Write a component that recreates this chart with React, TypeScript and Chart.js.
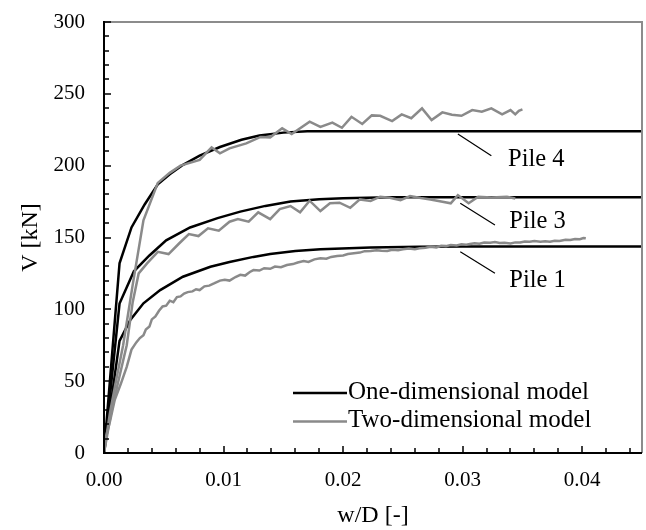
import React, { useEffect, useRef } from "react";
import { Chart, registerables } from "chart.js";

Chart.register(...registerables);

// ---------- Data ----------
// One-dimensional model (black)
const pile4_1D_w = [0, 0.0013, 0.0023, 0.0034, 0.0045, 0.0055, 0.0065, 0.008, 0.0097, 0.0115, 0.013, 0.015, 0.017, 0.019, 0.045];
const pile4_1D_V = [0, 132, 157, 173, 187, 194, 200, 207, 213, 218, 221, 223, 224, 224, 224];

const pile3_1D_w = [0, 0.0013, 0.0025, 0.0038, 0.0052, 0.0072, 0.0095, 0.0114, 0.0135, 0.0156, 0.018, 0.02, 0.024, 0.045];
const pile3_1D_V = [0, 104, 126.5, 137.5, 148, 157, 163.5, 168, 172, 175, 176.7, 177.3, 178, 178];

const pile1_1D_w = [0, 0.0013, 0.0022, 0.0033, 0.0047, 0.0066, 0.0089, 0.0105, 0.0125, 0.0139, 0.016, 0.0181, 0.0223, 0.0264, 0.03, 0.045];
const pile1_1D_V = [0, 78, 92.6, 104.2, 113.4, 122.7, 129.6, 133, 136.5, 138.5, 140.6, 141.8, 143.1, 143.6, 143.7, 143.7];

// Two-dimensional model (grey)
const pile4_2D_w = [0, 0.0005, 0.001, 0.0016, 0.0024, 0.0033, 0.0045, 0.0055, 0.0064, 0.008, 0.009, 0.0097, 0.0105, 0.0119, 0.0131, 0.0139, 0.0149, 0.0157, 0.0172, 0.0181, 0.0191, 0.0199, 0.0207, 0.0216, 0.0224, 0.0231, 0.0241, 0.0249, 0.0257, 0.0266, 0.0274, 0.0283, 0.0291, 0.0299, 0.0308, 0.0316, 0.0324, 0.0333, 0.034, 0.0344, 0.0347, 0.035];
const pile4_2D_V = [0, 28, 50, 75, 117, 162, 188, 195, 200, 204, 212.7, 208.6, 212, 215.5, 220, 219.7, 226, 222, 230.6, 227, 230, 226.4, 234, 229, 235, 234.7, 231, 235.7, 233, 239.9, 231.7, 237.1, 235.5, 234.7, 238.7, 237.5, 239.9, 235.7, 238.7, 235.7, 238.2, 239.2];

const pile3_2D_w = [0, 0.0006, 0.0012, 0.0019, 0.0024, 0.0029, 0.0036, 0.0045, 0.0054, 0.0063, 0.0071, 0.0079, 0.0087, 0.0096, 0.0105, 0.0112, 0.0121, 0.0129, 0.0139, 0.0147, 0.0156, 0.0164, 0.0172, 0.0181, 0.0189, 0.0197, 0.0206, 0.0214, 0.0223, 0.0231, 0.0239, 0.0248, 0.0256, 0.0265, 0.0273, 0.0282, 0.029, 0.0296, 0.0305, 0.0313, 0.0324, 0.0337, 0.0344];
const pile3_2D_V = [0, 28, 50, 75, 105, 125, 132, 140, 138.5, 146, 152.4, 151, 156.4, 154.7, 161, 162.8, 161, 167.5, 162.8, 169.8, 171.9, 167.5, 175.6, 168.4, 173.8, 174.2, 170.7, 176.5, 175.4, 178.4, 177.7, 176, 178.8, 177.5, 176.5, 175, 173.8, 179.5, 173.8, 178.4, 177.9, 178.4, 177.2];

const pile1_2D_w = [0, 0.0001, 0.0005, 0.0009, 0.0014, 0.0019, 0.0023, 0.0027, 0.003, 0.0033, 0.0035, 0.0038, 0.004, 0.0043, 0.0046, 0.0049, 0.0052, 0.0055, 0.0058, 0.0061, 0.0064, 0.0067, 0.007, 0.0074, 0.0077, 0.008, 0.0084, 0.0088, 0.0092, 0.0097, 0.0101, 0.0105, 0.011, 0.0114, 0.0118, 0.0122, 0.0125, 0.013, 0.0134, 0.0139, 0.0143, 0.0148, 0.0153, 0.0158, 0.0162, 0.0167, 0.0171, 0.0176, 0.0181, 0.0186, 0.019, 0.0195, 0.02, 0.0204, 0.0209, 0.0214, 0.0218, 0.0223, 0.0228, 0.0232, 0.0237, 0.0241, 0.0246, 0.025, 0.0255, 0.026, 0.0264, 0.0269, 0.0273, 0.0278, 0.0282, 0.0286, 0.029, 0.0295, 0.0299, 0.0303, 0.0306, 0.031, 0.0314, 0.0318, 0.0323, 0.0327, 0.0331, 0.0335, 0.034, 0.0344, 0.0348, 0.0352, 0.0356, 0.036, 0.0365, 0.0369, 0.0373, 0.0377, 0.0381, 0.0386, 0.039, 0.0394, 0.0398, 0.0401, 0.0403];
const pile1_2D_V = [0, 9, 22, 37, 48, 60, 72, 77, 80, 82, 86, 88, 93, 95, 99, 102, 102.5, 106, 105, 108.5, 109, 111, 112, 112.5, 114, 113.4, 116, 116.5, 118, 120, 120.5, 120, 122.5, 124, 123.5, 126, 127.3, 127, 128.6, 128.2, 129.8, 129.3, 130.8, 131.5, 132.6, 133.6, 133, 134.8, 135.5, 135.2, 136.5, 137.1, 137.5, 138.5, 139, 139.5, 140.5, 140.6, 141.2, 140.8, 140.6, 141.5, 141.2, 141.8, 142.3, 141.9, 142.5, 142.8, 143.5, 143.1, 144.2, 144, 144.7, 144.5, 145.3, 145, 145.4, 146, 145.6, 146.5, 146.3, 146.8, 146.2, 146.3, 145.9, 146.6, 146.5, 147.2, 147, 147.5, 147.1, 147.4, 147, 147.8, 147.6, 148.5, 148.2, 149, 148.8, 149.6, 149.4];

// Axes
const xTickValues = [0, 0.01, 0.02, 0.03, 0.04];
const yTickValues = [0, 50, 100, 150, 200, 250, 300];
const X_MIN = 0, X_MAX = 0.045, Y_MIN = 0, Y_MAX = 300;
const X_MINOR_STEP = 0.002;
const Y_MINOR_STEP = 10;

// Annotations (labels + leader lines), data units
const pileLabels = ["Pile 4", "Pile 3", "Pile 1"];
const pileLabelW = [0.0338, 0.0339, 0.0339];
const pileLabelV = [199.7, 156.8, 115.3];
const leaderStartW = [0.0296, 0.0298, 0.0298];
const leaderStartV = [222, 173.8, 140.1];
const leaderEndW = [0.0324, 0.0327, 0.0327];
const leaderEndV = [206.9, 158.7, 125.1];

const legendLabels = ["One-dimensional model", "Two-dimensional model"];

const BLACK = "#000000";
const GREY = "#8a8a8a";
const FONT = "'Liberation Serif', 'Times New Roman', serif";

const toPts = (w: number[], v: number[]) => w.map((x, i) => ({ x, y: v[i] }));

const overlayPlugin = {
  id: "overlay",
  afterDatasetsDraw(chart: any) {
    const { ctx, chartArea: a, scales } = chart;
    const xs = scales.x, ys = scales.y;
    ctx.save();
    // frame top/right
    ctx.strokeStyle = "#8c8c8c";
    ctx.lineWidth = 2;
    ctx.beginPath();
    ctx.moveTo(a.left, a.top);
    ctx.lineTo(a.right, a.top);
    ctx.lineTo(a.right, a.bottom);
    ctx.stroke();
    // axes
    ctx.strokeStyle = BLACK;
    ctx.lineWidth = 2;
    ctx.beginPath();
    ctx.moveTo(a.left, a.top - 1);
    ctx.lineTo(a.left, a.bottom);
    ctx.lineTo(a.right, a.bottom);
    ctx.stroke();
    // ticks (inward)
    ctx.lineWidth = 1.5;
    ctx.beginPath();
    const nY = Math.round((Y_MAX - Y_MIN) / Y_MINOR_STEP);
    for (let i = 0; i <= nY; i++) {
      const v = Y_MIN + i * Y_MINOR_STEP;
      const py = Math.round(ys.getPixelForValue(v));
      const major = yTickValues.some((t) => Math.abs(t - v) < 1e-9);
      ctx.moveTo(a.left, py);
      ctx.lineTo(a.left + (major ? 7 : 5), py);
    }
    const nX = Math.round((X_MAX - X_MIN) / X_MINOR_STEP);
    for (let i = 0; i <= nX; i++) {
      const v = X_MIN + i * X_MINOR_STEP;
      const px = Math.round(xs.getPixelForValue(v));
      const major = xTickValues.some((t) => Math.abs(t - v) < 1e-9);
      ctx.moveTo(px, a.bottom);
      ctx.lineTo(px, a.bottom - (major ? 7 : 5));
    }
    ctx.stroke();

    // leader lines
    ctx.lineWidth = 1.2;
    ctx.strokeStyle = BLACK;
    ctx.beginPath();
    for (let i = 0; i < pileLabels.length; i++) {
      ctx.moveTo(xs.getPixelForValue(leaderStartW[i]), ys.getPixelForValue(leaderStartV[i]));
      ctx.lineTo(xs.getPixelForValue(leaderEndW[i]), ys.getPixelForValue(leaderEndV[i]));
    }
    ctx.stroke();
    ctx.fillStyle = BLACK;
    ctx.font = `24.5px ${FONT}`;
    ctx.textAlign = "left";
    ctx.textBaseline = "alphabetic";
    for (let i = 0; i < pileLabels.length; i++) {
      ctx.fillText(pileLabels[i], xs.getPixelForValue(pileLabelW[i]), ys.getPixelForValue(pileLabelV[i]));
    }

    // legend
    ctx.font = `25px ${FONT}`;
    const lx0 = a.left + 189;
    const lx1 = a.left + 243;
    const rows = [a.bottom - 60, a.bottom - 31.5];
    const colors = [BLACK, GREY];
    for (let i = 0; i < legendLabels.length; i++) {
      ctx.strokeStyle = colors[i];
      ctx.lineWidth = 2.5;
      ctx.beginPath();
      ctx.moveTo(lx0, rows[i]);
      ctx.lineTo(lx1, rows[i]);
      ctx.stroke();
      ctx.fillStyle = BLACK;
      ctx.fillText(legendLabels[i], lx1 + 1, rows[i] + 5.5);
    }
    ctx.restore();
  },
};

export default function App() {
  const ref = useRef<HTMLCanvasElement | null>(null);
  useEffect(() => {
    if (!ref.current) return;
    const ds = (w: number[], v: number[], color: string, order: number) => ({
      data: toPts(w, v),
      borderColor: color,
      backgroundColor: color,
      borderWidth: 2.5,
      pointRadius: 0,
      tension: 0,
      fill: false,
      order,
    });
    const chart = new Chart(ref.current, {
      type: "line",
      data: {
        datasets: [
          ds(pile4_1D_w, pile4_1D_V, BLACK, 2),
          ds(pile3_1D_w, pile3_1D_V, BLACK, 2),
          ds(pile1_1D_w, pile1_1D_V, BLACK, 2),
          ds(pile4_2D_w, pile4_2D_V, GREY, 1),
          ds(pile3_2D_w, pile3_2D_V, GREY, 1),
          ds(pile1_2D_w, pile1_2D_V, GREY, 1),
        ],
      },
      options: {
        animation: false,
        responsive: false,
        devicePixelRatio: 1,
        layout: { padding: { left: 0, top: 22, right: 4, bottom: 0 }, autoPadding: false } as any,
        plugins: { legend: { display: false }, tooltip: { enabled: false } },
        scales: {
          x: {
            type: "linear",
            min: X_MIN,
            max: X_MAX,
            grid: { display: false, drawTicks: false },
            border: { display: false },
            afterBuildTicks: (s: any) => {
              s.ticks = xTickValues.map((value) => ({ value }));
            },
            afterFit: (s: any) => {
              s.height = 77;
              s.paddingLeft = 0;
              s.paddingRight = 0;
            },
            ticks: {
              autoSkip: false,
              maxRotation: 0,
              padding: 15,
              color: BLACK,
              font: { family: FONT, size: 21 },
              callback: (v: any) => Number(v).toFixed(2),
            },
            title: {
              display: true,
              text: "w/D [-]",
              color: BLACK,
              font: { family: FONT, size: 24 },
              padding: { top: 0, bottom: 0 },
            },
          },
          y: {
            type: "linear",
            min: Y_MIN,
            max: Y_MAX,
            grid: { display: false, drawTicks: false },
            border: { display: false },
            afterBuildTicks: (s: any) => {
              s.ticks = yTickValues.map((value) => ({ value }));
            },
            afterFit: (s: any) => {
              s.width = 104;
              s.paddingTop = 0;
              s.paddingBottom = 0;
            },
            ticks: {
              autoSkip: false,
              padding: 19,
              color: BLACK,
              font: { family: FONT, size: 21 },
              callback: (v: any) => String(v),
            },
            title: {
              display: true,
              text: "V [kN]",
              color: BLACK,
              font: { family: FONT, size: 24 },
              padding: { top: 16, bottom: 0 },
            },
          },
        },
      },
      plugins: [overlayPlugin],
    } as any);
    return () => chart.destroy();
  }, []);
  return (
    <div style={{ position: "absolute", left: 0, top: 0, width: 646, height: 530, background: "#fff" }}>
      <canvas ref={ref} width={646} height={530} style={{ display: "block" }} />
    </div>
  );
}
